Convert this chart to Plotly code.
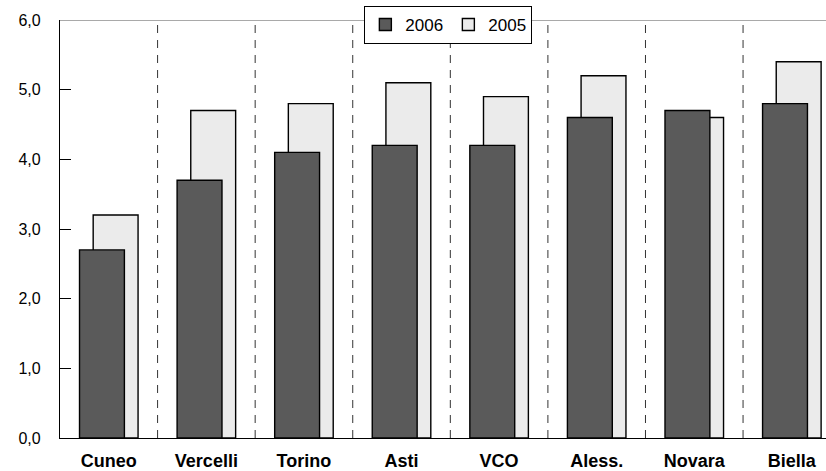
import plotly.graph_objects as go

categories = ["Cuneo", "Vercelli", "Torino", "Asti", "VCO", "Aless.", "Novara", "Biella"]
values_2006 = [2.7, 3.7, 4.1, 4.2, 4.2, 4.6, 4.7, 4.8]
values_2005 = [3.2, 4.7, 4.8, 5.1, 4.9, 5.2, 4.6, 5.4]
y_ticks = [0, 1, 2, 3, 4, 5, 6]

idx = list(range(len(categories)))
off = 0.07
bw = 0.46

fig = go.Figure()
fig.add_trace(go.Bar(
    x=[i + off for i in idx], y=values_2005, width=bw, name="2005",
    marker=dict(color="#ebebeb", line=dict(color="#000000", width=1.4)),
))
fig.add_trace(go.Bar(
    x=[i - off for i in idx], y=values_2006, width=bw, name="2006",
    marker=dict(color="#5a5a5a", line=dict(color="#000000", width=1.4)),
))

shapes = []
for i in idx[:-1]:
    shapes.append(dict(type="line", xref="x", yref="y", x0=i + 0.5, x1=i + 0.5, y0=0, y1=6,
                       line=dict(color="#333333", width=1, dash="8px,7px"), layer="below"))
shapes.append(dict(type="line", xref="paper", yref="y", x0=0, x1=1, y0=6, y1=6,
                   line=dict(color="#555555", width=1.2), layer="below"))

fig.update_layout(
    width=826, height=471,
    margin=dict(l=60, r=0, t=20, b=33, autoexpand=False),
    paper_bgcolor="white", plot_bgcolor="white",
    barmode="overlay",
    separators=",.",
    font=dict(family="Liberation Sans, Arial, sans-serif", size=16, color="#000000"),
    showlegend=True,
    legend=dict(orientation="h", x=0.507, xanchor="center", y=0.988, yanchor="middle",
                bgcolor="white", bordercolor="#000000", borderwidth=1,
                font=dict(size=17), traceorder="reversed",
                tracegroupgap=0, itemwidth=30, entrywidth=38, entrywidthmode="pixels"),
    shapes=shapes,
    xaxis=dict(range=[-0.5, 7.35], tickmode="array", tickvals=idx, ticktext=categories,
               showline=True, linecolor="#000000", linewidth=1.2, ticks="",
               showgrid=False, zeroline=False, automargin=False, ticklabelstandoff=6,
               tickfont=dict(size=18, family="Liberation Sans, Arial, sans-serif", weight="bold")),
    yaxis=dict(range=[0, 6], tickmode="array", tickvals=y_ticks, tickformat=".1f",
               showline=True, linecolor="#000000", linewidth=1.2,
               ticks="inside", ticklen=11, tickcolor="#000000", tickwidth=1,
               showgrid=False, zeroline=False, automargin=False, ticklabelstandoff=15,
               tickfont=dict(size=16)),
)

fig.write_html("out.html", config={"displayModeBar": False},
               post_script="document.body.style.margin='0';document.body.style.overflow='hidden';")
